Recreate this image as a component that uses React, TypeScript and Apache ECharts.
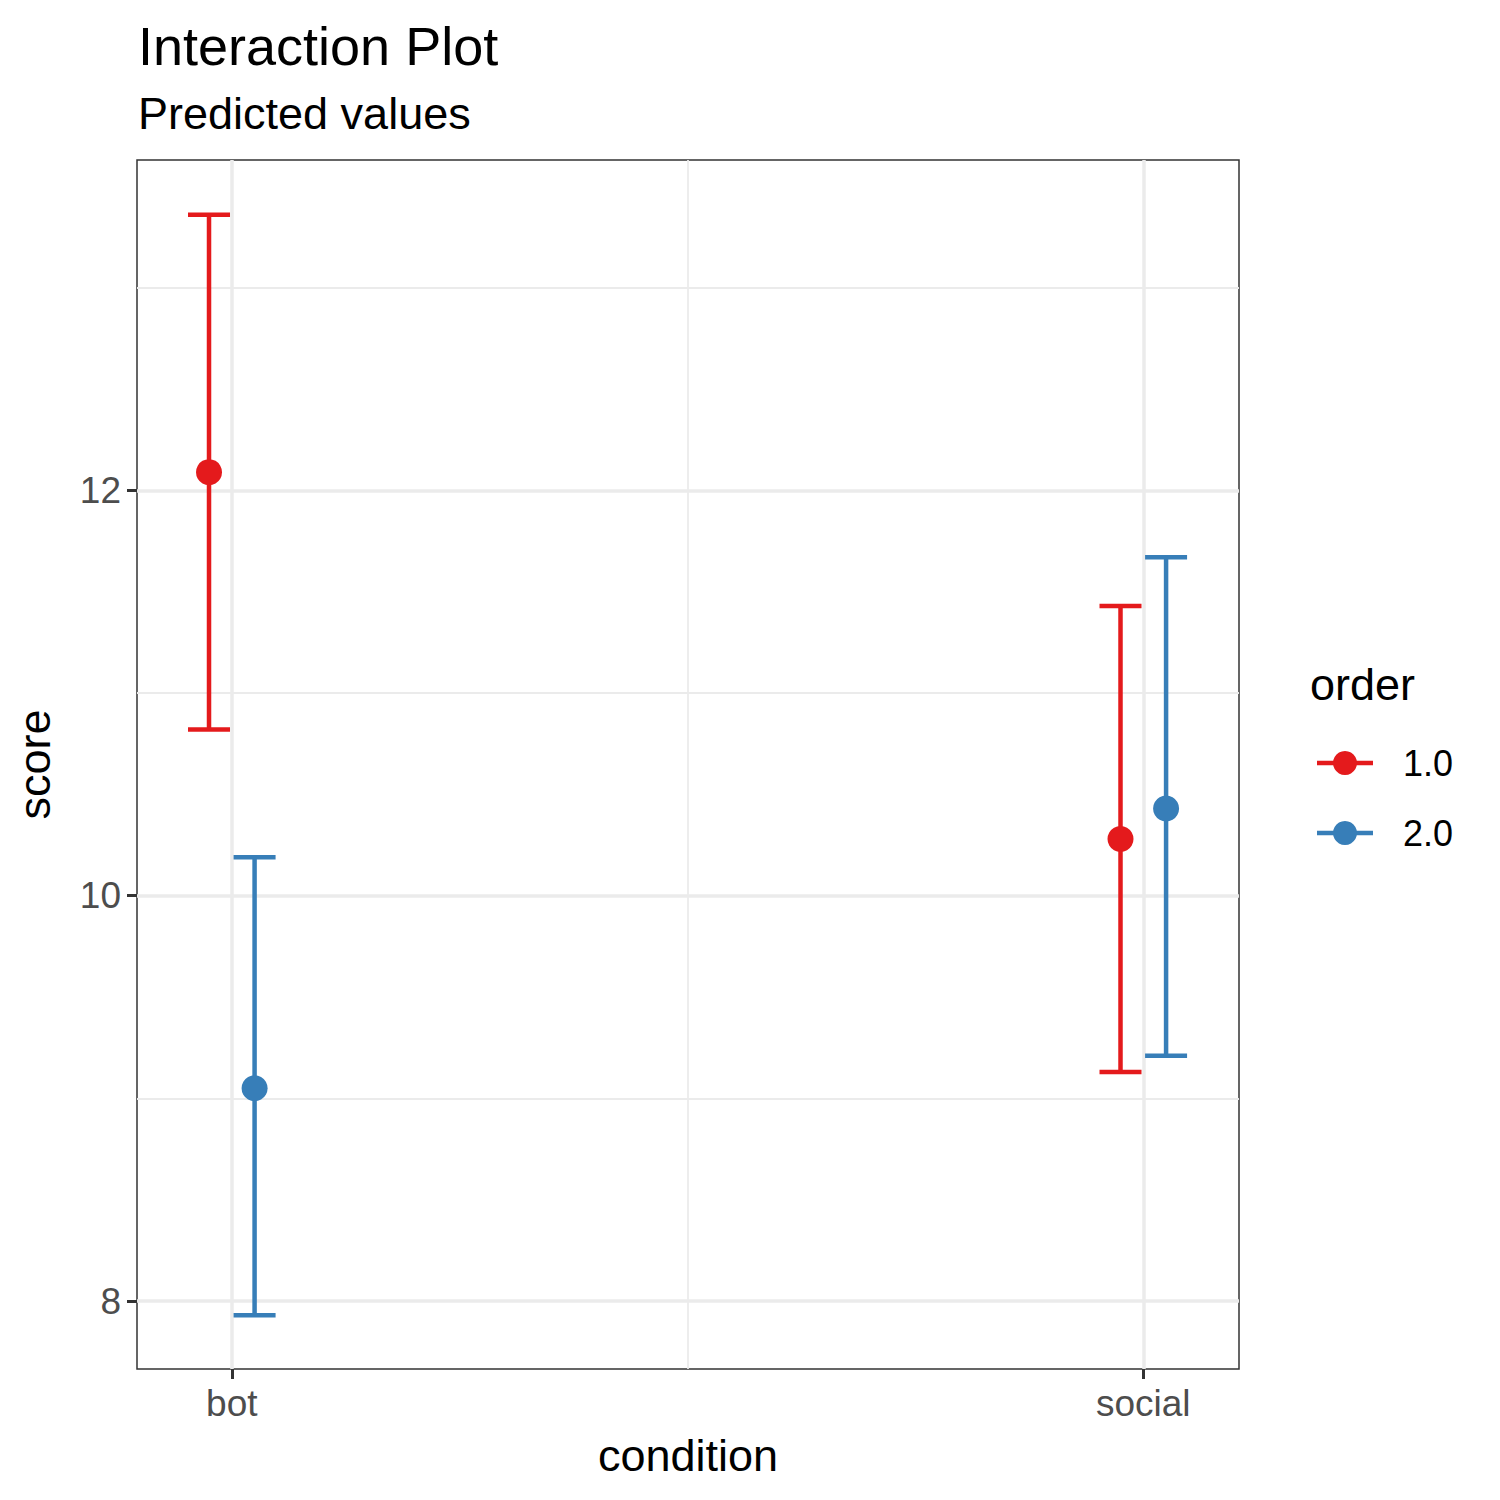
import React, { useEffect, useRef } from "react";
import * as echarts from "echarts";

const conditions = ["bot", "social"];
const orders = ["1.0", "2.0"];
const colors = ["#E41A1C", "#377EB8"];
// [condition index][order index]
const predicted = [
  [12.09, 9.05],
  [10.28, 10.43],
];
const lower = [
  [10.82, 7.93],
  [9.13, 9.21],
];
const upper = [
  [13.36, 10.19],
  [11.43, 11.67],
];
const dodge = [-0.025, 0.025];
const yTicks = [8, 10, 12];

const App: React.FC = () => {
  const ref = useRef<HTMLDivElement>(null);

  useEffect(() => {
    document.body.style.margin = "0";
    if (!ref.current) return;
    const chart = echarts.init(ref.current, undefined, { renderer: "svg" });
    const font = "Liberation Sans, Arial, sans-serif";

    const gridLines = [
      ...[8, 10, 12].map((v) => ({ yAxis: v, lineStyle: { color: "#ebebeb", width: 3.5, type: "solid" } })),
      ...[9, 11, 13].map((v) => ({ yAxis: v, lineStyle: { color: "#ebebeb", width: 1.8, type: "solid" } })),
      ...[1, 2].map((v) => ({ xAxis: v, lineStyle: { color: "#ebebeb", width: 3.5, type: "solid" } })),
      { xAxis: 1.5, lineStyle: { color: "#ebebeb", width: 1.8, type: "solid" } },
    ];

    const series: any[] = [
      {
        type: "scatter",
        data: [],
        silent: true,
        markLine: { silent: true, symbol: "none", label: { show: false }, data: gridLines, z: 0 },
      },
    ];

    orders.forEach((o, oi) => {
      const errData = conditions.map((_, ci) => [ci + 1 + dodge[oi], lower[ci][oi], upper[ci][oi]]);
      series.push({
        type: "custom",
        name: o,
        data: errData,
        z: 3,
        renderItem: (params: any, api: any) => {
          const x = api.value(0);
          const lo = api.coord([x, api.value(1)]);
          const hi = api.coord([x, api.value(2)]);
          const w = 21;
          const style = { stroke: colors[oi], lineWidth: 4.5 };
          return {
            type: "group",
            children: [
              { type: "line", shape: { x1: lo[0], y1: lo[1], x2: hi[0], y2: hi[1] }, style },
              { type: "line", shape: { x1: lo[0] - w, y1: lo[1], x2: lo[0] + w, y2: lo[1] }, style },
              { type: "line", shape: { x1: hi[0] - w, y1: hi[1], x2: hi[0] + w, y2: hi[1] }, style },
            ],
          };
        },
      });
      series.push({
        type: "scatter",
        name: o,
        symbolSize: 26,
        z: 4,
        itemStyle: { color: colors[oi], opacity: 1 },
        data: conditions.map((_, ci) => [ci + 1 + dodge[oi], predicted[ci][oi]]),
      });
    });

    const legendItems = orders.flatMap((o, i) => {
      const y = 763 + i * 70;
      return [
        { type: "line", shape: { x1: 1317, y1: y, x2: 1373, y2: y }, style: { stroke: colors[i], lineWidth: 4.5 } },
        { type: "circle", shape: { cx: 1345, cy: y, r: 12 }, style: { fill: colors[i] } },
        { type: "text", x: 1403, y, style: { text: o, font: `36px ${font}`, fill: "#000", verticalAlign: "middle" } },
      ];
    });

    chart.setOption({
      animation: false,
      backgroundColor: "#fff",
      title: {
        text: "Interaction Plot",
        subtext: "Predicted values",
        left: 133,
        top: 14,
        itemGap: 18,
        textStyle: { fontFamily: font, fontSize: 54, fontWeight: "normal", color: "#000" },
        subtextStyle: { fontFamily: font, fontSize: 45, color: "#000" },
      },
      grid: { left: 137, top: 160, width: 1102, height: 1209, show: true, borderColor: "#333", borderWidth: 1.5, backgroundColor: "transparent" },
      xAxis: {
        type: "value",
        min: 0.896,
        max: 2.105,
        name: "condition",
        nameLocation: "middle",
        nameGap: 64,
        nameTextStyle: { fontFamily: font, fontSize: 45, color: "#000" },
        axisLine: { show: false },
        splitLine: { show: false },
        axisTick: { show: true, customValues: [1, 2], length: 10, lineStyle: { color: "#333", width: 3 } },
        axisLabel: {
          customValues: [1, 2],
          formatter: (v: number) => conditions[Math.round(v) - 1] ?? "",
          fontFamily: font,
          fontSize: 37,
          color: "#4d4d4d",
          margin: 16,
        },
      },
      yAxis: {
        type: "value",
        min: 7.665,
        max: 13.63,
        name: "score",
        nameLocation: "middle",
        nameGap: 80,
        nameTextStyle: { fontFamily: font, fontSize: 45, color: "#000" },
        axisLine: { show: false },
        splitLine: { show: false },
        axisTick: { show: true, customValues: yTicks, length: 10, lineStyle: { color: "#333", width: 3 } },
        axisLabel: { customValues: yTicks, fontFamily: font, fontSize: 37, color: "#4d4d4d", margin: 16 },
      },
      graphic: [
        { type: "text", x: 1310, y: 684, style: { text: "order", font: `45px ${font}`, fill: "#000", verticalAlign: "middle" } },
        ...legendItems,
      ],
      series,
    });
    return () => chart.dispose();
  }, []);

  return <div ref={ref} style={{ width: 1500, height: 1500 }} />;
};

export default App;
